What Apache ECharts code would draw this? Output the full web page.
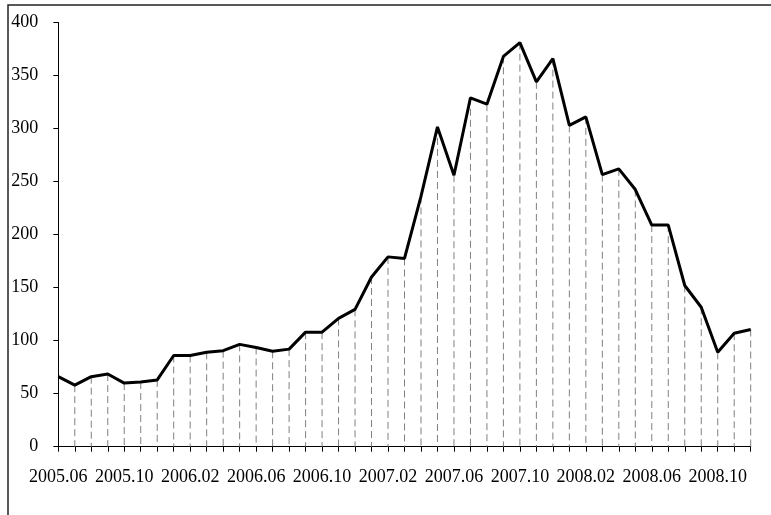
<!DOCTYPE html>
<html>
<head>
<meta charset="utf-8">
<script src="https://cdn.jsdelivr.net/npm/echarts@6/dist/echarts.min.js"></script>
<style>
html,body{margin:0;padding:0;background:#fff;}
#chart{width:771px;height:515px;}
</style>
</head>
<body>
<div id="chart"></div>
<script>
const categories = [
  '2005.06','2005.07','2005.08','2005.09','2005.10','2005.11','2005.12',
  '2006.01','2006.02','2006.03','2006.04','2006.05','2006.06','2006.07','2006.08','2006.09','2006.10','2006.11','2006.12',
  '2007.01','2007.02','2007.03','2007.04','2007.05','2007.06','2007.07','2007.08','2007.09','2007.10','2007.11','2007.12',
  '2008.01','2008.02','2008.03','2008.04','2008.05','2008.06','2008.07','2008.08','2008.09','2008.10','2008.11','2008.12'
];
const values = [
  66, 58, 66, 68.5, 60, 61, 63,
  86, 86, 89, 90.5, 96.5, 93.5, 90, 92, 108, 108, 121, 129.5,
  160, 179, 177.5, 236, 301.5, 256, 329, 323, 368, 381, 344, 366,
  303, 311, 256.5, 262, 242.5, 209, 209, 152, 131.5, 89, 107, 110.5
];
const yTicks = { min: 0, max: 400, interval: 50 };

const font = '"Liberation Serif", "Times New Roman", serif';
const chart = echarts.init(document.getElementById('chart'), null, { renderer: 'canvas' });
chart.setOption({
  animation: false,
  backgroundColor: '#fff',
  graphic: [{
    type: 'rect',
    shape: { x: 8, y: 5, width: 900, height: 700 },
    style: { fill: 'none', stroke: '#222', lineWidth: 1.5 },
    silent: true,
    z: -10
  }],
  grid: { left: 58.3, right: 20.3, top: 22.5, bottom: 68.3 },
  xAxis: {
    type: 'category',
    data: categories,
    boundaryGap: false,
    axisLine: { lineStyle: { color: '#000', width: 1 } },
    axisTick: { show: true, interval: 0, length: 5, lineStyle: { color: '#000' } },
    axisLabel: { interval: 3, color: '#000', fontFamily: font, fontSize: 18, margin: 21.5 },
    splitLine: { show: false }
  },
  yAxis: {
    type: 'value',
    min: yTicks.min, max: yTicks.max, interval: yTicks.interval,
    axisLine: { show: true, lineStyle: { color: '#000', width: 1 } },
    axisTick: { show: true, length: 5, lineStyle: { color: '#000' } },
    axisLabel: { color: '#000', fontFamily: font, fontSize: 18, margin: 20 },
    splitLine: { show: false }
  },
  series: [
    {
      type: 'custom',
      data: values.map((v, i) => [i, v]),
      renderItem: function (params, api) {
        const i = api.value(0);
        if (i === 0) return null;
        const top = api.coord([i, api.value(1)]);
        const bot = api.coord([i, 0]);
        return {
          type: 'line',
          shape: { x1: top[0], y1: top[1], x2: bot[0], y2: bot[1] },
          style: { stroke: '#808080', lineWidth: 1, lineDash: [7, 4] }
        };
      },
      z: 1,
      silent: true
    },
    {
      type: 'line',
      data: values,
      symbol: 'none',
      lineStyle: { color: '#000', width: 3 },
      z: 5
    }
  ]
});
</script>
</body>
</html>
